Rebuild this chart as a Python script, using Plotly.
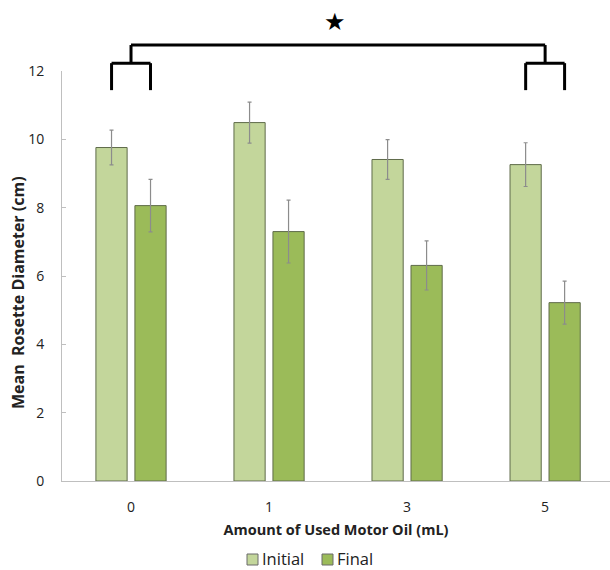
import plotly.graph_objects as go

# Rosette diameter measurements by amount of used motor oil
categories = ["0", "1", "3", "5"]
initial_mean = [9.76, 10.49, 9.41, 9.26]
initial_err = [0.51, 0.60, 0.58, 0.64]
final_mean = [8.06, 7.30, 6.31, 5.22]
final_err = [0.77, 0.92, 0.72, 0.63]
series_names = ["Initial", "Final"]

positions = list(range(len(categories)))
X_RANGE = [-0.5, 3.47]
Y_RANGE = [0, 12]
BAR_OFFSET = 0.141  # half the distance between paired bar centres

W, H = 610, 570
M_L, M_R, M_T, M_B = 62, 0, 71, 89

FONT = "'Open Sans', sans-serif"
LIGHT = "#c3d69b"
DARK = "#9bbb59"
OUTLINE = "#5f6b4a"
TEXT = "#222222"

fig = go.Figure()
fig.add_trace(go.Bar(
    x=positions, y=initial_mean, name=series_names[0],
    marker=dict(color=LIGHT, line=dict(color=OUTLINE, width=1)),
    error_y=dict(type="data", array=initial_err, color="#8c8c8c", thickness=1.2, width=2),
))
fig.add_trace(go.Bar(
    x=positions, y=final_mean, name=series_names[1],
    marker=dict(color=DARK, line=dict(color=OUTLINE, width=1)),
    error_y=dict(type="data", array=final_err, color="#8c8c8c", thickness=1.2, width=2),
))


def xp(x):
    """Data x -> paper x."""
    return (x - X_RANGE[0]) / (X_RANGE[1] - X_RANGE[0])


def yp(y):
    """Data y -> paper y."""
    return (y - Y_RANGE[0]) / (Y_RANGE[1] - Y_RANGE[0])


def px_x(p):
    """Page pixel x -> paper x."""
    return (p - M_L) / (W - M_L - M_R)


def px_y(p):
    """Page pixel y -> paper y."""
    return (H - M_B - p) / (H - M_T - M_B)


# Significance bracket comparing the 0 mL and 5 mL groups
top, mid, leg = 12.76, 12.23, 11.44
first, last = positions[0], positions[-1]
segments = [
    (first, top, last, top),
    (first, top, first, mid),
    (last, top, last, mid),
    (first - BAR_OFFSET, mid, first + BAR_OFFSET, mid),
    (last - BAR_OFFSET, mid, last + BAR_OFFSET, mid),
    (first - BAR_OFFSET, mid, first - BAR_OFFSET, leg),
    (first + BAR_OFFSET, mid, first + BAR_OFFSET, leg),
    (last - BAR_OFFSET, mid, last - BAR_OFFSET, leg),
    (last + BAR_OFFSET, mid, last + BAR_OFFSET, leg),
]
for x0, y0, x1, y1 in segments:
    fig.add_shape(type="line", xref="paper", yref="paper",
                  x0=xp(x0), y0=yp(y0), x1=xp(x1), y1=yp(y1),
                  line=dict(color="black", width=3))

fig.add_annotation(text="★", xref="paper", yref="paper",
                   x=xp((first + last) / 2 - 0.02), y=yp(13.43),
                   xanchor="center", yanchor="middle",
                   showarrow=False, font=dict(size=24, color="black", family="DejaVu Sans"))

# Y-axis title, placed slightly below the plot centre
fig.add_annotation(text="<b>Mean  Rosette Diameter (cm)</b>", xref="paper", yref="paper",
                   x=px_x(18), y=px_y(293), textangle=-90, showarrow=False,
                   xanchor="center", yanchor="middle",
                   font=dict(size=16, color=TEXT))

# Compact legend below the x-axis title
legend_items = [(series_names[0], LIGHT, 247), (series_names[1], DARK, 322)]
for name, color, left in legend_items:
    fig.add_shape(type="rect", xref="paper", yref="paper",
                  x0=px_x(left), x1=px_x(left + 11), y0=px_y(565), y1=px_y(554),
                  fillcolor=color, line=dict(color="#6b6b6b", width=1))
    fig.add_annotation(text=name, xref="paper", yref="paper",
                       x=px_x(left + 14), y=px_y(558), xanchor="left", yanchor="middle",
                       showarrow=False, borderpad=0, font=dict(size=16.5, color=TEXT))

fig.update_layout(
    width=W, height=H,
    margin=dict(l=M_L, r=M_R, t=M_T, b=M_B),
    paper_bgcolor="white", plot_bgcolor="white",
    barmode="group", bargap=0.435, bargroupgap=0.2,
    font=dict(family=FONT, color=TEXT),
    showlegend=False,
)
fig.update_xaxes(
    range=X_RANGE, tickvals=positions, ticktext=categories,
    showline=True, linecolor="#bfbfbf", linewidth=1, ticks="",
    showgrid=False, zeroline=False, tickfont=dict(size=14),
    ticklabelstandoff=13,
    title=dict(text="<b>Amount of Used Motor Oil (mL)</b>", font=dict(size=14.5), standoff=10),
)
fig.update_yaxes(
    range=Y_RANGE, dtick=2, showline=True, linecolor="#bfbfbf", linewidth=1,
    ticks="inside", ticklen=4, tickcolor="#bfbfbf",
    showgrid=False, zeroline=False, tickfont=dict(size=14),
    ticklabelstandoff=14,
)

fig.write_html("out.html")
